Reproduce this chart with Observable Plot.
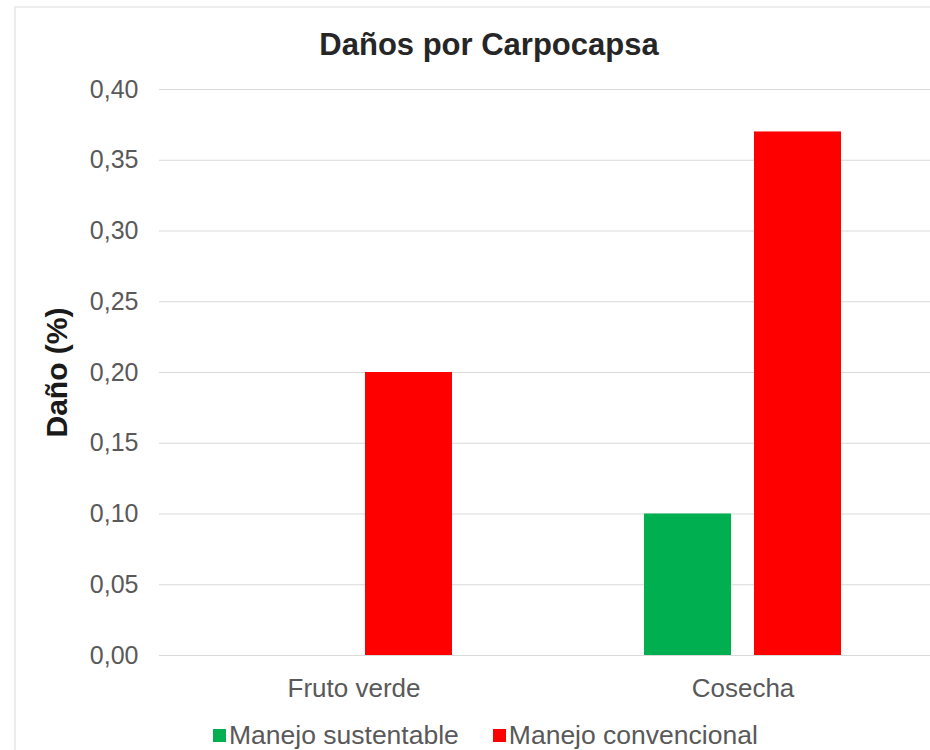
<!DOCTYPE html>
<html>
<head>
<meta charset="utf-8">
<script src="https://cdn.jsdelivr.net/npm/d3@7"></script>
<script src="https://cdn.jsdelivr.net/npm/@observablehq/plot@0.6"></script>
<style>
  html, body { margin: 0; padding: 0; background: #ffffff; overflow: hidden; }
  body { width: 930px; height: 750px; position: relative; font-family: "Liberation Sans", Arial, sans-serif; }
  #frame { position: absolute; left: 14px; top: 6px; width: 1000px; height: 800px; border: 2px solid #ececec; box-sizing: border-box; }
  #title { position: absolute; left: 0; top: 30px; width: 978px; text-align: center; font-size: 31px; line-height: 30px; font-weight: bold; color: #262626; }
  #chart { position: absolute; left: 0; top: 0; width: 940px; }
  #chart svg { max-width: none !important; }
  #legend { position: absolute; left: 213px; top: 720px; display: flex; align-items: center; font-size: 26.5px; line-height: 30px; color: #595959; white-space: nowrap; }
  #legend .item { display: flex; align-items: center; margin-right: 34px; }
  #legend .sw { width: 13px; height: 13px; margin-right: 3px; }
</style>
</head>
<body>
<div id="frame"></div>
<div id="chart"></div>
<div id="title">Daños por Carpocapsa</div>
<div id="legend"></div>
<script>
// Stages of sampling and the two management systems compared
const categories = ["Fruto verde", "Cosecha"];
const series = ["Manejo sustentable", "Manejo convencional"];
const colors = ["#00b050", "#ff0000"];

// Damage (%) for each stage
const sustentable = [0.00, 0.10];
const convencional = [0.20, 0.37];

const yTicks = [0, 0.05, 0.10, 0.15, 0.20, 0.25, 0.30, 0.35, 0.40];

const rows = categories.flatMap((c, i) => [
  {category: c, series: series[0], value: sustentable[i]},
  {category: c, series: series[1], value: convencional[i]}
]);

const fmt = d => d.toFixed(2).replace(".", ",");

const chart = Plot.plot({
  width: 940,
  height: 710,
  marginLeft: 158,
  marginRight: 3,
  marginTop: 89,
  marginBottom: 55,
  style: {fontFamily: "'Liberation Sans', Arial, sans-serif", background: "transparent", overflow: "visible", maxWidth: "none"},
  fx: {domain: categories, padding: 0, label: null},
  x: {domain: series, paddingInner: 0.208, paddingOuter: 0.866, axis: null},
  y: {domain: [0, 0.4], label: null},
  color: {domain: series, range: colors},
  marks: [
    Plot.gridY(yTicks, {stroke: "#d9d9d9", strokeOpacity: 1, strokeWidth: 1.2}),
    Plot.barY(rows, {fx: "category", x: "series", y: "value", fill: "series"}),
    Plot.axisY({ticks: yTicks, tickFormat: fmt, tickSize: 0, tickPadding: 21, fontSize: 25, fill: "#595959", label: null}),
    Plot.axisY({ticks: [], label: "Daño (%)", labelAnchor: "center", labelOffset: 114, labelArrow: "none", fontSize: 30, fontWeight: "bold", fill: "#1a1a1a"}),
    Plot.axisFx({anchor: "bottom", tickSize: 0, tickPadding: 23, fontSize: 26, fill: "#595959", label: null})
  ]
});
document.getElementById("chart").appendChild(chart);

// Legend swatches built from the same series and colours
const legend = document.getElementById("legend");
series.forEach((s, i) => {
  const item = document.createElement("div");
  item.className = "item";
  const sw = document.createElement("span");
  sw.className = "sw";
  sw.style.background = colors[i];
  const label = document.createElement("span");
  label.textContent = s;
  item.append(sw, label);
  legend.appendChild(item);
});
</script>
</body>
</html>
